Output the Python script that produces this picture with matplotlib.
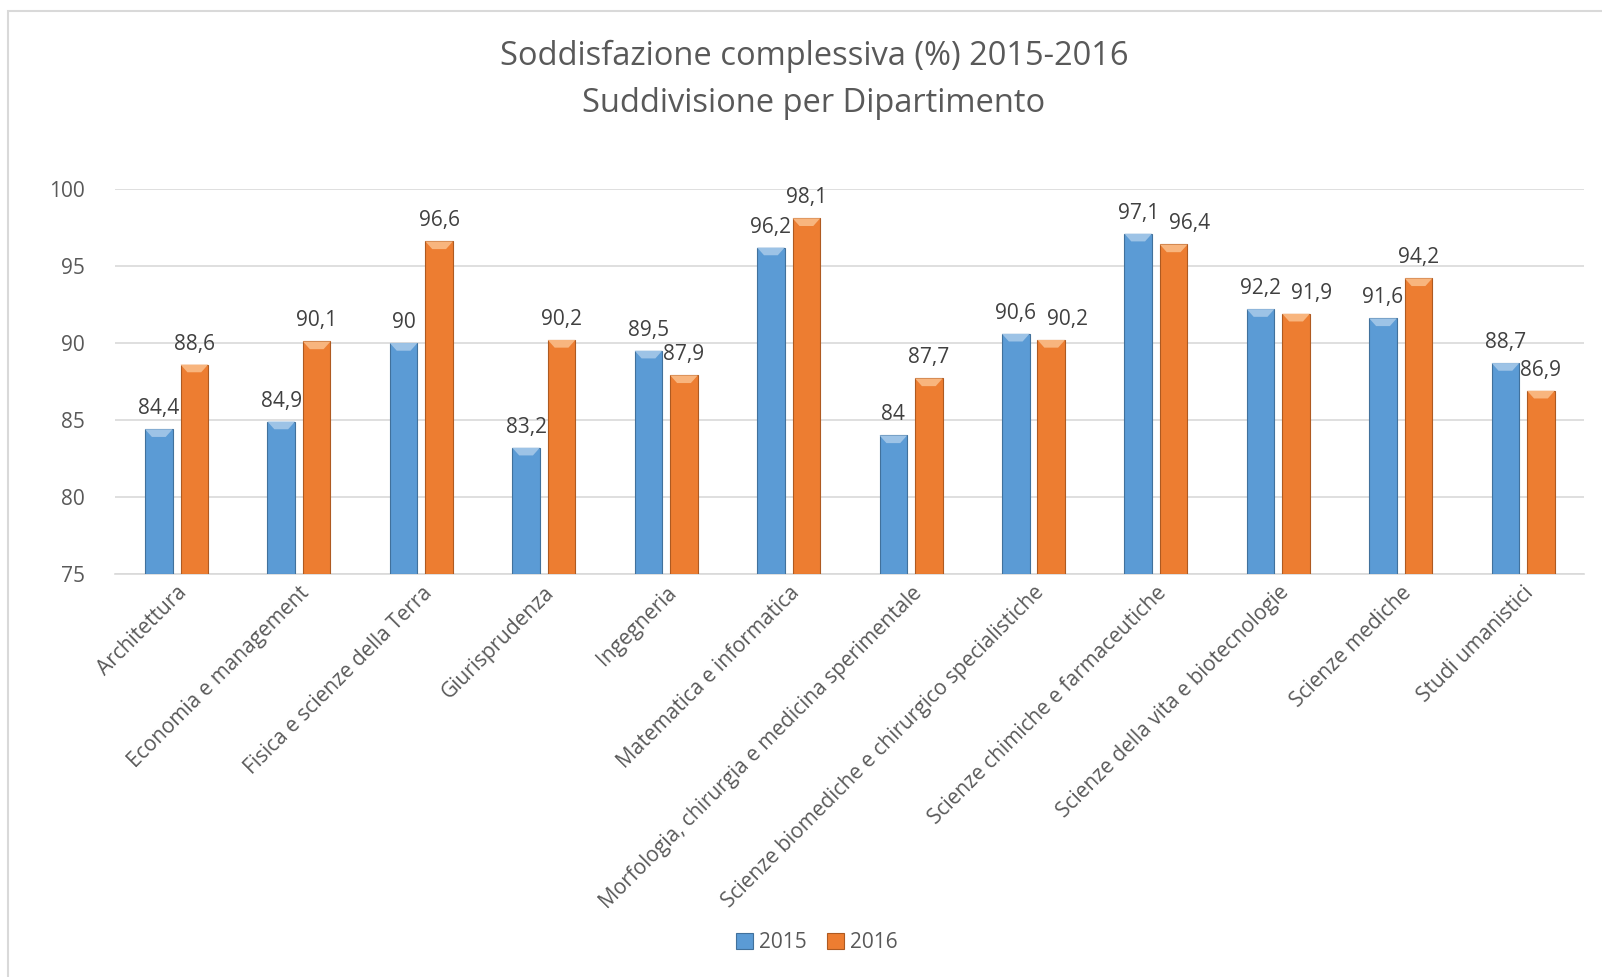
import numpy as np
import matplotlib
matplotlib.use("Agg")
import matplotlib.pyplot as plt
from matplotlib.patches import Rectangle

# data
departments = [
    "Architettura",
    "Economia e management",
    "Fisica e scienze della Terra",
    "Giurisprudenza",
    "Ingegneria",
    "Matematica e informatica",
    "Morfologia, chirurgia e medicina sperimentale",
    "Scienze biomediche e chirurgico specialistiche",
    "Scienze chimiche e farmaceutiche",
    "Scienze della vita e biotecnologie",
    "Scienze mediche",
    "Studi umanistici",
]
val_2015 = [84.4, 84.9, 90, 83.2, 89.5, 96.2, 84, 90.6, 97.1, 92.2, 91.6, 88.7]
val_2016 = [88.6, 90.1, 96.6, 90.2, 87.9, 98.1, 87.7, 90.2, 96.4, 91.9, 94.2, 86.9]
series_names = ["2015", "2016"]
yticks = [75, 80, 85, 90, 95, 100]

plt.rcParams['font.family'] = ['Open Sans', 'DejaVu Sans']
txt_col = "#595959"
fs = 15


def fmt(v):
    s = ("%g" % v).replace(".", ",")
    return s


def main():
    fig = plt.figure(figsize=(16.02, 9.77), dpi=100)
    # outer chart border
    fig.patches.append(Rectangle((8 / 1602, -0.02), 1, 1 - 11 / 977 + 0.02, transform=fig.transFigure,
                                 fill=False, edgecolor="#d9d9d9", linewidth=1.5))

    ax = fig.add_axes([0.072, 0.4125, 0.917, 0.394])
    x = np.arange(len(departments))
    w = 0.225
    off = 0.145
    b1 = ax.bar(x - off, np.array(val_2015) - 75, w, bottom=75, color="#5B9BD5",
                edgecolor="#41719C", linewidth=0.8, label=series_names[0], zorder=3)
    b2 = ax.bar(x + off, np.array(val_2016) - 75, w, bottom=75, color="#ED7D31",
                edgecolor="#AE5A21", linewidth=0.8, label=series_names[1], zorder=3)

    # lighter top bevel, like the excel 3d-ish bars
    for xs, vals, c in [(x - off, val_2015, "#9DC3E6"), (x + off, val_2016, "#F8B57E")]:
        for xi, v in zip(xs, vals):
            ax.fill([xi - w / 2, xi + w / 2, xi + w / 4, xi - w / 4], [v, v, v - 0.5, v - 0.5],
                    color=c, zorder=4, linewidth=0)

    # value labels; 2016 label nudged right when both values are close (as in the original)
    for i, (v1, v2) in enumerate(zip(val_2015, val_2016)):
        ax.text(x[i] - off, v1 + 0.65, fmt(v1), ha="center", va="bottom", fontsize=fs, color="#404040")
        nudge = 0.13 if abs(v1 - v2) < 1.2 else 0
        ax.text(x[i] + off + nudge, v2 + 0.65, fmt(v2), ha="center", va="bottom", fontsize=fs,
                color="#404040")

    ax.set_ylim(75, 100)
    ax.set_xlim(-0.5, len(departments) - 0.5)
    ax.set_yticks(yticks)
    ax.yaxis.grid(True, color="#d9d9d9", linewidth=1.2, zorder=0)
    ax.tick_params(axis="y", length=0, labelsize=fs, labelcolor=txt_col, pad=22)
    ax.tick_params(axis="x", length=0, labelsize=fs, labelcolor=txt_col, pad=6)
    ax.set_xticks(x)
    ax.set_xticklabels(departments, rotation=45, ha="right", rotation_mode="anchor")
    for s in ["top", "right", "left"]:
        ax.spines[s].set_visible(False)
    ax.spines["bottom"].set_color("#d9d9d9")
    ax.spines["bottom"].set_linewidth(1.2)

    fig.text(0.508, 0.959, "Soddisfazione complessiva (%) 2015-2016\nSuddivisione per Dipartimento",
             ha="center", va="top", fontsize=23.5, color=txt_col, linespacing=1.55)

    fig.legend(handles=[b1, b2], loc="center", bbox_to_anchor=(0.51, 0.035), ncol=2, frameon=False,
               fontsize=fs, handlelength=0.8, handleheight=0.8, handletextpad=0.3, columnspacing=1.0,
               labelcolor=txt_col)

    fig.savefig("out.png", dpi=100)


if __name__ == "__main__":
    main()
